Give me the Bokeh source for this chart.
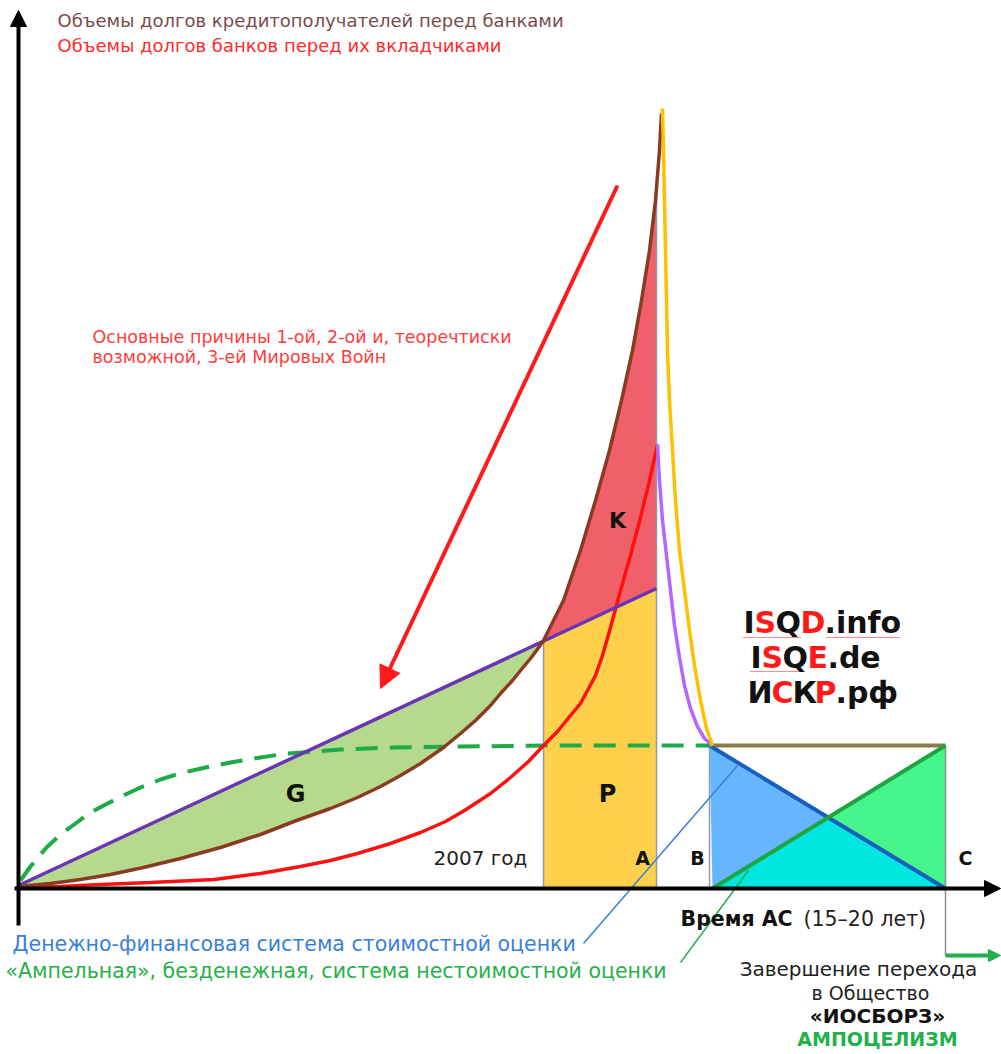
from bokeh.plotting import figure
from bokeh.models import Range1d, Arrow, NormalHead
from bokeh.embed import file_html
from bokeh.resources import INLINE
from bokeh.core.properties import value

# ---------------- data (diagram coordinates: x to the right, y downward) -------------
base_y = 888          # time axis

# debts of borrowers to banks (brown, exponential)
brown_x = [18, 50, 80, 110, 143, 180, 220, 260, 296, 330, 357, 380, 400, 420, 443, 460, 475, 490, 500, 512, 520, 530,
           536, 543, 553, 563, 580, 595, 609, 621, 632, 641, 649, 655, 659, 661]
brown_y = [886, 883, 879, 874, 867, 858, 847, 834, 820, 808, 797, 786, 775, 763, 747, 733, 720, 705, 693, 680, 670, 658,
           650, 640, 620, 600, 550, 500, 450, 400, 350, 300, 250, 200, 150, 113]

# debts of banks to depositors (red)
red_x = [18, 60, 100, 150, 214, 260, 300, 330, 357, 390, 420, 445, 464, 490, 510, 528, 543, 557, 570, 580, 587, 595,
         602, 610, 620, 630, 640, 649, 657]
red_y = [887, 886, 884, 882, 879, 873, 866, 860, 853, 843, 832, 821, 810, 793, 777, 761, 745, 731, 715, 703, 690, 675,
         655, 627, 590, 555, 517, 480, 444]

# straight purple line
purple_x = [18, 656]
purple_y = [885, 588]

# collapse curves after the peak
yellow_x = [662, 663, 664, 665, 666, 667, 669, 672, 675, 679, 684, 689, 694, 700, 706, 712]
yellow_y = [108, 150, 200, 250, 300, 350, 400, 450, 500, 550, 590, 630, 665, 700, 728, 745]
violet_x = [657, 659, 662, 666, 670, 674, 679, 684, 690, 697, 704, 712]
violet_y = [444, 480, 520, 555, 590, 625, 657, 685, 708, 726, 738, 745]

# dashed green saturation curve
dash_x = [20, 30, 46, 60, 75, 90, 107, 125, 140, 160, 179, 205, 230, 260, 286, 315, 340, 393, 460, 550, 712]
dash_y = [880, 866, 847, 834, 823, 812, 803, 794, 787, 779, 773, 767, 762, 757, 753, 751, 749, 747, 746, 745, 745]

# zone boundaries
x_2007 = 543
x_A = 656
x_B = 709
x_C = 945
level_y = 745
k_top_y = 190
cross = (828, 817)

# ---------------- figure ----------------
p = figure(width=1001, height=1054, x_range=Range1d(0, 1001), y_range=Range1d(1054, 0),
           output_backend="svg", toolbar_location=None,
           x_axis_location=None, y_axis_location=None, min_border=0)
p.outline_line_color = None
p.grid.visible = False
p.background_fill_color = "white"

def purple_at(x):
    return purple_y[0] + (purple_y[1] - purple_y[0]) * (x - purple_x[0]) / (purple_x[1] - purple_x[0])

# G area: between purple line and brown curve up to 2007
g_idx = [i for i, x in enumerate(brown_x) if x <= x_2007]
gx = [purple_x[0], x_2007] + [brown_x[i] for i in reversed(g_idx)]
gy = [purple_y[0], purple_at(x_2007)] + [brown_y[i] for i in reversed(g_idx)]
p.patch(gx, gy, fill_color="#B5D98D", line_color=None)

# P area (yellow)
p.patch([x_2007, x_2007, x_A, x_A], [base_y, purple_at(x_2007), purple_at(x_A), base_y],
        fill_color="#FFD04C", line_color=None)

# K area (red)
k_idx = [i for i, x in enumerate(brown_x) if x_2007 <= x <= x_A - 1]
kx = [brown_x[i] for i in k_idx] + [x_A, x_A]
ky = [brown_y[i] for i in k_idx] + [k_top_y, purple_at(x_A)]
p.patch(kx, ky, fill_color="#F0606A", line_color=None)

# grey verticals
p.segment([x_2007, x_A, x_B], [purple_at(x_2007), k_top_y, level_y], [x_2007, x_A, x_B], [base_y, base_y, base_y],
          line_color="#8C9AAE", line_width=1.5)

# box triangles
p.patch([x_B, cross[0], x_B + 3], [level_y, cross[1], base_y], fill_color="#66B5FF", line_color=None)
p.patch([x_B + 3, cross[0], x_C], [base_y, cross[1], base_y], fill_color="#00E6E0", line_color=None)
p.patch([x_C, cross[0], x_C], [level_y, cross[1], base_y], fill_color="#46F58C", line_color=None)
p.segment([x_C], [level_y], [x_C], [955], line_color="#8C8C8C", line_width=1.5)
p.line([x_B + 3, x_C], [level_y, level_y], line_color="#8C7B48", line_width=4)
p.line([x_B, x_C], [level_y, base_y], line_color="#1A5EC0", line_width=4)
p.line([x_B + 3, x_C], [base_y, level_y], line_color="#1EA540", line_width=4)

# curves
p.line(dash_x, dash_y, line_color="#1EAA46", line_width=4, line_dash="22 12")
p.line(red_x, red_y, line_color="#FF1010", line_width=3.5)
p.line(purple_x, purple_y, line_color="#6A35B5", line_width=3.5)
p.line(brown_x, brown_y, line_color="#8B3A22", line_width=3.5)
p.line(violet_x, violet_y, line_color="#B666FF", line_width=3.5)
p.line(yellow_x, yellow_y, line_color="#FFC000", line_width=3.5)

# thin pointer lines
p.line([737, 583], [765, 943], line_color="#3A80D8", line_width=1.5)
p.line([748, 680], [870, 962], line_color="#28B04A", line_width=1.5)

# axes with arrows
p.add_layout(Arrow(end=NormalHead(size=16, fill_color="black", line_color="black"),
                   x_start=18, y_start=925, x_end=18, y_end=10, line_width=4, line_color="black"))
p.add_layout(Arrow(end=NormalHead(size=16, fill_color="black", line_color="black"),
                   x_start=14, y_start=base_y, x_end=1000, y_end=base_y, line_width=4, line_color="black"))
# big red arrow
p.add_layout(Arrow(end=NormalHead(size=22, fill_color="#FF1A1A", line_color="#FF1A1A"),
                   x_start=617, y_start=185, x_end=380, y_end=688, line_width=4, line_color="#FF1A1A"))
# green exit arrow
p.add_layout(Arrow(end=NormalHead(size=12, fill_color="#22B04A", line_color="#22B04A"),
                   x_start=945, y_start=955, x_end=1000, y_end=955, line_width=4, line_color="#22B04A"))

F = value("DejaVu Sans")

def txt(x, y, s, size, color, bold=False, align="left"):
    p.text([x], [y], text=[s], text_font=F, text_font_size=size, text_color=color,
           text_font_style="bold" if bold else "normal", text_align=align, text_baseline="middle")

txt(57, 20, "Объемы долгов кредитополучателей перед банками", "18px", "#7A4B4B")
txt(57, 45, "Объемы долгов банков перед их вкладчиками", "18px", "#FF2A2A")
txt(92, 336, "Основные причины 1-ой, 2-ой и, теоречтиски", "17.5px", "#FF3B3B")
txt(92, 356, "возможной, 3-ей Мировых Войн", "17.5px", "#FF3B3B")

txt(617, 520, "K", "22px", "#111111", bold=True, align="center")
txt(295, 793, "G", "24px", "#111111", bold=True, align="center")
txt(607, 793, "P", "24px", "#111111", bold=True, align="center")
txt(433, 857, "2007 год", "20px", "#222222")
txt(642, 857, "A", "19px", "#111111", bold=True, align="center")
txt(697, 857, "B", "19px", "#111111", bold=True, align="center")
txt(965, 857, "C", "19px", "#111111", bold=True, align="center")

# site names (black / red letters)
def multi(x0, y, parts, size=30):
    for dx, s, c in parts:
        txt(x0 + dx, y, s, f"{size}px", c, bold=True)

BL, RD = "#111111", "#FF1A1A"
multi(743, 622, [(0, "I", BL), (11, "S", RD), (32, "Q", BL), (57, "D", RD), (81, ".info", BL)])
multi(750, 657, [(0, "I", BL), (11, "S", RD), (32, "Q", BL), (57, "E", RD), (77, ".de", BL)])
multi(747, 692, [(0, "И", BL), (24, "С", RD), (45, "К", BL), (67, "Р", RD), (88, ".рф", BL)])
p.line([743, 800], [637, 637], line_color=RD, line_width=1, line_dash="1 1")
p.line([826, 900], [637, 637], line_color=RD, line_width=1, line_dash="1 1")
p.line([750, 800], [671, 671], line_color=RD, line_width=1, line_dash="1 1")

txt(12, 943, "Денежно-финансовая система стоимостной оценки", "20.5px", "#3A80D8")
txt(5, 970, "«Ампельная», безденежная, система нестоимостной оценки", "20.5px", "#28B04A")

txt(680, 918, "Время АС", "20.5px", "#111111", bold=True)
txt(803, 918, "(15–20 лет)", "20.5px", "#222222")

txt(858, 968, "Завершение перехода", "20px", "#222222", align="center")
txt(870, 992, "в Общество", "19px", "#222222", align="center")
txt(877, 1015, "«ИОСБОРЗ»", "20px", "#111111", bold=True, align="center")
txt(877, 1038, "АМПОЦЕЛИЗМ", "19px", "#22B04A", bold=True, align="center")

open("out.html", "w").write(file_html(p, INLINE))
